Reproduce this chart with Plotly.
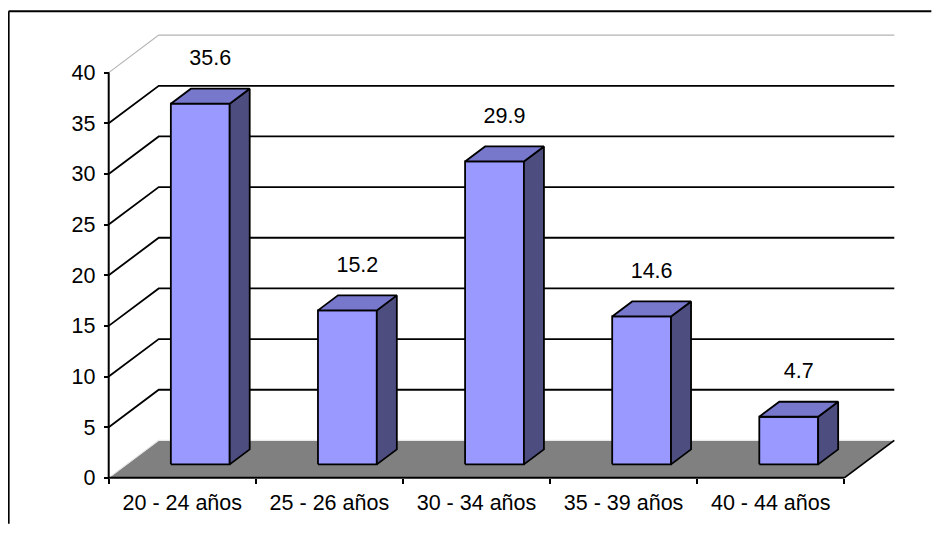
import plotly.graph_objects as go

# data
categories = ["20 - 24 años", "25 - 26 años", "30 - 34 años", "35 - 39 años", "40 - 44 años"]
values = [35.6, 15.2, 29.9, 14.6, 4.7]
y_ticks = [0, 5, 10, 15, 20, 25, 30, 35, 40]
value_labels = ["35.6", "15.2", "29.9", "14.6", "4.7"]

# oblique 3-D look (old Excel style), offsets in axis units
DX, DY = 0.34, 3.7            # depth of floor / walls
F_FRONT, F_BACK = 0.36, 0.76  # bar front and back, as fraction of depth
HALF_W = 0.2                  # half width of a bar
LABEL_GAP = 3.6

# pixel frame (page coords; the html body adds an 8px margin all round)
BODY = 8
W, H = 940 - 2 * BODY, 538 - 2 * BODY - 6
X0_PX, Y0_PX = 109 - BODY, 478 - BODY   # where (-0.5, 0) sits
PX_CAT, PX_UNIT = 147, 10.14

FONT = "Arial, 'Liberation Sans', sans-serif"
FS = 21.5

n = len(categories)
x_left, x_right = -0.5, n - 0.5
y_top = y_ticks[-1]
xmin, xmax = x_left - 0.1, x_right + DX + 0.1
ymin, ymax = -1.0, y_top + DY + 1.0

ml = X0_PX - (x_left - xmin) * PX_CAT
mr = W - (X0_PX + (xmax - x_left) * PX_CAT)
mt = Y0_PX - ymax * PX_UNIT
mb = H - (Y0_PX - ymin * PX_UNIT)
pw, ph = W - ml - mr, H - mt - mb


def px_to_paper(px, py):
    return (px - BODY - ml) / pw, (H - mb - (py - BODY)) / ph


fig = go.Figure()


def poly(xs, ys, fill=None, color="black", width=1.8, xaxis="x"):
    fig.add_trace(go.Scatter(
        x=xs, y=ys, mode="lines", xaxis=xaxis,
        fill="toself" if fill else None, fillcolor=fill,
        line=dict(color=color, width=width),
        hoverinfo="skip", showlegend=False,
    ))


# walls: gridlines on the back wall and the left wall
gx, gy = [], []
for t in y_ticks[1:-1]:
    gx += [x_left, x_left + DX, x_right + DX, None]
    gy += [t, t + DY, t + DY, None]
poly(gx, gy)
poly([x_left, x_left + DX, x_right + DX], [y_top, y_top + DY, y_top + DY], color="#b4b4b4", width=1.2)

# floor
poly([x_left, x_right, x_right + DX, x_left + DX, x_left], [0, 0, DY, DY, 0],
     fill="#808080", color="rgba(0,0,0,0)", width=0)
poly([x_left, x_left + DX, x_right + DX], [0, DY, DY], color="#e8e8e8", width=1.2)
poly([x_right, x_right + DX], [0, DY])

# bars
for i, v in enumerate(values):
    xl = i - HALF_W + F_FRONT * DX
    xr = i + HALF_W + F_FRONT * DX
    yb = F_FRONT * DY
    ddx = (F_BACK - F_FRONT) * DX
    ddy = (F_BACK - F_FRONT) * DY
    # front face
    poly([xl, xr, xr, xl, xl], [yb, yb, yb + v, yb + v, yb], fill="#9999ff")
    # side face
    poly([xr, xr + ddx, xr + ddx, xr, xr], [yb, yb + ddy, yb + ddy + v, yb + v, yb], fill="#4d4d80")
    # top face
    poly([xl, xr, xr + ddx, xl + ddx, xl], [yb + v, yb + v, yb + ddy + v, yb + ddy + v, yb + v], fill="#7777cc")

# front axis lines
poly([x_left, x_left], [0, y_top], width=2)
poly([x_left, x_right], [0, 0], width=2, xaxis="x2")

# value labels
fm = (F_FRONT + F_BACK) / 2
fig.add_trace(go.Scatter(
    x=[i + fm * DX for i in range(n)],
    y=[v + fm * DY + LABEL_GAP for v in values],
    text=value_labels, mode="text", textposition="middle center",
    textfont=dict(family=FONT, size=FS, color="black"),
    cliponaxis=False, hoverinfo="skip", showlegend=False,
))

# outer border of the chart object: only left and top edges are in view
bx0, by0 = px_to_paper(9, 11)
bx1, by1 = px_to_paper(W + BODY - 1, H + BODY)
border = dict(color="black", width=2)
fig.add_shape(type="line", xref="paper", yref="paper", x0=bx0, y0=by0, x1=bx1, y1=by0, line=border)
fig.add_shape(type="line", xref="paper", yref="paper", x0=bx0, y0=by0, x1=bx0, y1=by1, line=border)

xpos = (0 - ymin) / (ymax - ymin)
ypos = (x_left - xmin) / (xmax - xmin)

fig.update_layout(
    width=W, height=H,
    margin=dict(l=ml, r=mr, t=mt, b=mb, pad=0, autoexpand=False),
    paper_bgcolor="white", plot_bgcolor="white",
    font=dict(family=FONT, size=FS, color="black"),
    xaxis=dict(range=[xmin, xmax], anchor="free", position=xpos, automargin=False,
               tickvals=list(range(n)), ticktext=categories,
               ticks="", showline=False, showgrid=False, zeroline=False,
               ticklabelstandoff=10, fixedrange=True),
    xaxis2=dict(range=[xmin, xmax], overlaying="x", anchor="free", position=xpos, automargin=False,
                tickvals=[x_left + k for k in range(n + 1)], showticklabels=False,
                ticks="outside", ticklen=5, tickwidth=1.8, tickcolor="black",
                showline=False, showgrid=False, zeroline=False, fixedrange=True),
    yaxis=dict(range=[ymin, ymax], anchor="free", position=ypos, automargin=False,
               tickvals=y_ticks, ticks="outside", ticklen=5, tickwidth=1.8, tickcolor="black",
               ticklabelstandoff=4,
               showline=False, showgrid=False, zeroline=False, fixedrange=True),
)

fig.write_html("out.html")
